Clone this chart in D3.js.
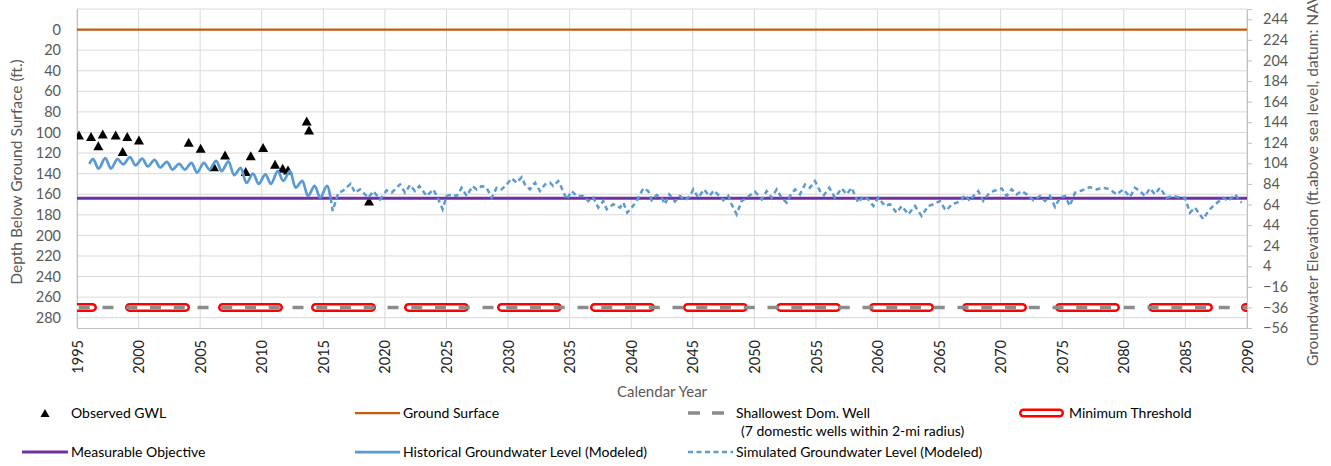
<!DOCTYPE html>
<html><head><meta charset="utf-8">
<script src="https://cdn.jsdelivr.net/npm/d3@7"></script>
<style>
html,body{margin:0;padding:0;background:#fff;}
svg{display:block;font-family:Lato,"Open Sans",sans-serif;}
</style></head>
<body>
<svg id="chart" width="1331" height="466"></svg>
<script>
// ---------------- DATA ----------------
const yearTicks = [1995,2000,2005,2010,2015,2020,2025,2030,2035,2040,2045,2050,2055,2060,2065,2070,2075,2080,2085,2090];
const depthTicks = [0,20,40,60,80,100,120,140,160,180,200,220,240,260,280];
const elevTicks = [-56,-36,-16,4,24,44,64,84,104,124,144,164,184,204,224,244];

const obsYears = [1995.16,1996.14,1996.73,1997.09,1998.14,1998.71,1999.08,2000.03,2004.07,2005.04,2006.12,2007.02,2008.70,2009.11,2010.11,2011.08,2011.70,2012.13,2013.65,2013.84,2018.71];
const obsDepth = [102.4,104.0,112.8,101.4,102.4,118.6,104.0,107.3,109.5,115.3,133.2,121.8,138.0,122.5,114.7,130.9,134.7,136.4,88.8,97.5,166.5];

const groundYears = [1995,2090];
const groundDepth = [0,0];
const shallowYears = [1995,2090];
const shallowDepth = [270,270];
const minThreshYears = [1995,2090];
const minThreshDepth = [270,270];
const moYears = [1995,2090];
const moDepth = [164,164];

const histYears = [1996.0,1996.3,1996.75,1997.3,1997.75,1998.3,1998.75,1999.3,1999.75,2000.3,2000.75,2001.3,2001.75,2002.3,2002.75,2003.3,2003.75,2004.3,2004.75,2005.3,2005.75,2006.3,2006.75,2007.3,2007.75,2008.3,2008.75,2009.3,2009.75,2010.3,2010.75,2011.3,2011.75,2012.3,2012.75,2013.3,2013.75,2014.3,2014.75,2015.3,2015.6];
const histDepth = [130.5,126,135,125,135,126,131,124,132,125.5,133,126.5,134,128.5,136,130.5,136,129.5,139,129.5,136,127.5,137.5,128,141.5,134.5,149,140,150,140.8,150,137.6,147,137.6,153.7,147,161.8,152,163.4,152,164];

const simYears = [2015.6,2015.76,2016.22,2016.57,2017.22,2017.57,2017.98,2018.38,2018.65,2019.06,2019.60,2020.14,2020.55,2021.23,2021.63,2022.04,2022.44,2022.80,2023.39,2023.93,2024.34,2024.69,2025.01,2025.42,2025.83,2026.23,2026.64,2027.12,2027.45,2027.86,2028.26,2028.67,2029.07,2029.48,2029.89,2030.29,2030.70,2031.10,2031.37,2031.78,2032.19,2032.59,2033.00,2033.40,2033.67,2034.08,2034.35,2034.76,2035.16,2035.57,2036.11,2036.52,2036.92,2037.33,2037.73,2038.01,2038.55,2039.09,2039.36,2039.68,2040.04,2040.44,2040.98,2041.39,2041.66,2042.07,2042.47,2042.74,2043.09,2043.55,2043.96,2044.37,2044.77,2045.04,2045.45,2045.91,2046.34,2046.72,2047.15,2047.48,2047.88,2048.15,2048.56,2048.97,2049.37,2050.05,2050.59,2051.00,2051.40,2051.81,2052.21,2052.62,2052.89,2053.30,2053.70,2054.11,2054.51,2054.92,2055.33,2055.65,2056.08,2056.54,2057.09,2057.49,2057.90,2058.44,2058.84,2059.25,2059.66,2060.06,2060.60,2061.01,2061.55,2061.96,2062.50,2063.04,2063.58,2064.12,2064.53,2065.07,2065.48,2065.61,2066.02,2066.69,2067.10,2067.51,2067.78,2068.18,2068.59,2069.00,2069.40,2070.08,2070.48,2070.89,2071.29,2071.70,2072.11,2072.65,2073.19,2073.60,2074.00,2074.41,2074.81,2075.22,2075.62,2076.03,2076.44,2076.84,2077.25,2077.79,2078.33,2078.87,2079.41,2079.96,2080.50,2080.90,2081.31,2081.71,2082.12,2082.53,2082.93,2083.47,2084.01,2084.56,2084.96,2085.37,2085.77,2086.45,2086.86,2087.26,2088.07,2088.48,2089.02,2089.56];
const simDepth = [164,176.3,158.5,156.9,149.8,158.5,155.3,160.1,163.4,156.9,165,156.3,158.5,150.5,158.5,151.1,156.9,152.1,161.7,155.3,165,174.6,161.7,160.1,161.7,153.7,161.7,152.1,155.3,152.1,153.7,163.4,153.7,155.3,150.5,144.6,148.8,143.4,150.5,155.3,148.8,156.9,150.5,148.8,152.1,147.2,153.7,165,156.9,161.7,161.7,166.6,163.4,173,166.6,174.6,169.8,173,168.2,177.9,173,166.6,154.3,156.9,165.9,160.8,163.4,169.8,160.1,167.2,161.7,165.9,161.7,155.3,163.4,155.3,161.7,156.3,161.7,165.9,161.7,169.8,179.5,166.6,163.4,157.6,165,156.9,163.4,155.3,163.4,168.2,161.7,155.3,160.1,150.5,153.7,147.2,156.9,160.8,153.7,163.4,154.3,160.1,153.7,168.2,161.7,165,171.4,163.4,171.4,169.8,177.9,171.4,179.5,171.4,181.1,171.4,169.8,166.6,174.6,175.6,169.8,167.2,160.8,166.6,161.7,156.9,166.6,160.1,156.9,154.3,161.7,155.3,160.1,156.9,160.1,165.9,161.7,166.6,161.7,172.4,163.4,161.7,171.4,158.5,156.9,155.3,153,155.3,153.7,155.3,160.1,155.3,162.7,153.7,156.9,161.7,154.3,160.1,153.7,163.4,161.7,163.4,163.4,177.9,173,184.3,176.3,171.4,163.4,166.6,160.1,168.2];

// ---------------- LAYOUT ----------------
const svg = d3.select("#chart");
const L = 77, R = 1247, T = 9, B = 328;
const x = d3.scaleLinear().domain([1995,2090]).range([L,R]);
const yL = d3.scaleLinear().domain([-20,290]).range([T,B]);
const yR = d3.scaleLinear().domain([254,-56]).range([T,B]);
const tickColor = "#595959";
const gridColor = "#D9D9D9";

svg.append("defs").append("clipPath").attr("id","plotclip")
  .append("rect").attr("x",L).attr("y",T).attr("width",R-L).attr("height",B-T);

// gridlines
const grid = svg.append("g");
grid.selectAll("line.h").data(d3.range(-20,281,20)).join("line")
  .attr("x1",L).attr("x2",R).attr("y1",d=>yL(d)).attr("y2",d=>yL(d))
  .attr("stroke",gridColor).attr("stroke-width",1);
grid.selectAll("line.v").data(yearTicks).join("line")
  .attr("x1",d=>x(d)).attr("x2",d=>x(d)).attr("y1",T).attr("y2",B)
  .attr("stroke",gridColor).attr("stroke-width",1);

// axes
const axL = svg.append("g").attr("transform",`translate(${L},0)`)
  .call(d3.axisLeft(yL).tickValues(depthTicks).tickSize(0).tickPadding(16));
axL.select(".domain").attr("stroke","#BFBFBF");
axL.selectAll("text").attr("fill",tickColor).attr("font-size",14.5).attr("font-family","Lato");

const axR = svg.append("g").attr("transform",`translate(${R},0)`)
  .call(d3.axisRight(yR).tickValues(elevTicks).tickSize(5).tickPadding(11).tickFormat(d3.format("d")));
axR.select(".domain").attr("stroke","#BFBFBF");
axR.selectAll("line").attr("stroke","#BFBFBF");
axR.selectAll("text").attr("fill",tickColor).attr("font-size",14.5).attr("font-family","Lato");

const axB = svg.append("g").attr("transform",`translate(0,${B})`)
  .call(d3.axisBottom(x).tickValues(yearTicks).tickSize(0).tickFormat(d3.format("d")));
axB.select(".domain").attr("stroke","#BFBFBF");
axB.selectAll("text").attr("fill","#222").attr("font-size",14.5).attr("font-family","Lato")
  .attr("transform","rotate(-90)").attr("text-anchor","end")
  .attr("x",-12).attr("y",0).attr("dy","0.35em");

// axis titles
svg.append("text").attr("transform","translate(22,172) rotate(-90)")
  .attr("text-anchor","middle").attr("fill",tickColor).attr("font-size",15.5)
  .text("Depth Below Ground Surface  (ft.)");
svg.append("text").attr("transform","translate(1318,366) rotate(-90)")
  .attr("text-anchor","start").attr("fill",tickColor).attr("font-size",15.5)
  .text("Groundwater Elevation (ft.above sea level, datum: NAVD88)");
svg.append("text").attr("x",662).attr("y",397).attr("text-anchor","middle")
  .attr("fill",tickColor).attr("font-size",15).text("Calendar Year");

// ---------------- SERIES ----------------
const plot = svg.append("g").attr("clip-path","url(#plotclip)");
const zip = (xs,ys)=>xs.map((v,i)=>[v,ys[i]]);
const lineGen = d3.line().x(d=>x(d[0])).y(d=>yL(d[1]));

const tri = (w,h)=>`M0,${-h/2}L${w/2},${h/2}L${-w/2},${h/2}Z`;

// observed
plot.append("g").selectAll("path").data(zip(obsYears,obsDepth)).join("path")
  .attr("d",tri(10,9)).attr("transform",d=>`translate(${x(d[0])},${yL(d[1])})`)
  .attr("fill","#000");

// ground surface
plot.append("path").datum(zip(groundYears,groundDepth)).attr("d",lineGen)
  .attr("fill","none").attr("stroke","#C55A11").attr("stroke-width",2.25);

// minimum threshold (double line, pill dashes)
plot.append("path").datum(zip(minThreshYears,minThreshDepth)).attr("d",lineGen)
  .attr("fill","none").attr("stroke","#FF0000").attr("stroke-width",9)
  .attr("stroke-linecap","round").attr("stroke-dasharray","56,37").attr("stroke-dashoffset",40.5);
plot.append("path").datum(zip(minThreshYears,minThreshDepth)).attr("d",lineGen)
  .attr("fill","none").attr("stroke","#FFFFFF").attr("stroke-width",4)
  .attr("stroke-linecap","round").attr("stroke-dasharray","56,37").attr("stroke-dashoffset",40.5);

// shallowest dom well
plot.append("path").datum(zip(shallowYears,shallowDepth)).attr("d",lineGen)
  .attr("fill","none").attr("stroke","#8C8C8C").attr("stroke-width",3.5)
  .attr("stroke-dasharray","11,12.75").attr("stroke-dashoffset",-1.75);

// measurable objective
plot.append("path").datum(zip(moYears,moDepth)).attr("d",lineGen)
  .attr("fill","none").attr("stroke","#7030A0").attr("stroke-width",3);

// historical
plot.append("path").datum(zip(histYears,histDepth))
  .attr("d",d3.line().x(d=>x(d[0])).y(d=>yL(d[1])).curve(d3.curveMonotoneX))
  .attr("fill","none").attr("stroke","#5B9BD5").attr("stroke-width",2.75);

// simulated
plot.append("path").datum(zip(simYears,simDepth)).attr("d",lineGen)
  .attr("fill","none").attr("stroke","#5B9BD5").attr("stroke-width",2.5)
  .attr("stroke-dasharray","5,3.5");

// ---------------- LEGEND ----------------
const lg = svg.append("g").attr("font-size",14).attr("fill","#000");
const r1 = 413, r2 = 452;
// Observed GWL
lg.append("path").attr("d",tri(9,8)).attr("transform",`translate(45,${r1})`).attr("fill","#000");
lg.append("text").attr("x",71).attr("y",r1).attr("dy","0.35em").text("Observed GWL");
// Ground surface
lg.append("line").attr("x1",355).attr("x2",400).attr("y1",r1).attr("y2",r1).attr("stroke","#C55A11").attr("stroke-width",2.25);
lg.append("text").attr("x",403).attr("y",r1).attr("dy","0.35em").text("Ground Surface");
// Shallowest
lg.append("line").attr("x1",688).attr("x2",724).attr("y1",r1).attr("y2",r1).attr("stroke","#8C8C8C").attr("stroke-width",3.5).attr("stroke-dasharray","12,12");
lg.append("text").attr("x",736).attr("y",r1).attr("dy","0.35em").text("Shallowest Dom. Well");
lg.append("text").attr("x",741).attr("y",r1+18).attr("dy","0.35em").text("(7 domestic wells within 2-mi radius)");
// Minimum threshold
lg.append("line").attr("x1",1023.5).attr("x2",1059.5).attr("y1",r1).attr("y2",r1).attr("stroke","#FF0000").attr("stroke-width",9).attr("stroke-linecap","round");
lg.append("line").attr("x1",1023.5).attr("x2",1059.5).attr("y1",r1).attr("y2",r1).attr("stroke","#FFFFFF").attr("stroke-width",4).attr("stroke-linecap","round");
lg.append("text").attr("x",1069).attr("y",r1).attr("dy","0.35em").text("Minimum Threshold");
// Measurable objective
lg.append("line").attr("x1",22).attr("x2",68).attr("y1",r2).attr("y2",r2).attr("stroke","#7030A0").attr("stroke-width",3);
lg.append("text").attr("x",71).attr("y",r2).attr("dy","0.35em").text("Measurable Objective");
// Historical
lg.append("line").attr("x1",355).attr("x2",400).attr("y1",r2).attr("y2",r2).attr("stroke","#5B9BD5").attr("stroke-width",2.75);
lg.append("text").attr("x",403).attr("y",r2).attr("dy","0.35em").text("Historical Groundwater Level (Modeled)");
// Simulated
lg.append("line").attr("x1",688).attr("x2",733).attr("y1",r2).attr("y2",r2).attr("stroke","#5B9BD5").attr("stroke-width",2.5).attr("stroke-dasharray","5,3.5");
lg.append("text").attr("x",736).attr("y",r2).attr("dy","0.35em").text("Simulated Groundwater Level (Modeled)");
</script>
</body></html>
